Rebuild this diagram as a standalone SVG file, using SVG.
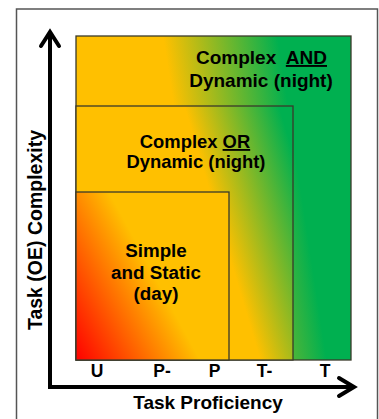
<svg xmlns="http://www.w3.org/2000/svg" width="379" height="419" viewBox="0 0 379 419">
<defs>
<linearGradient id="gAnd" gradientUnits="userSpaceOnUse" x1="163" y1="36" x2="275" y2="19">
<stop offset="0" stop-color="#FFC000"/><stop offset="1" stop-color="#00B050"/>
</linearGradient>
<linearGradient id="gOr" gradientUnits="userSpaceOnUse" x1="187" y1="115" x2="274" y2="89">
<stop offset="0" stop-color="#FFC000"/><stop offset="1" stop-color="#00B050"/>
</linearGradient>
<linearGradient id="gSimple" gradientUnits="userSpaceOnUse" x1="76" y1="360" x2="172" y2="308">
<stop offset="0" stop-color="#FF0000"/><stop offset="1" stop-color="#FFC000"/>
</linearGradient>
</defs>
<style>
.box{stroke:#3a3a2a;stroke-width:1.3}
.t{font-family:"Liberation Sans",Arial,sans-serif;font-weight:bold;fill:#000;text-anchor:middle}
.ax{fill:none;stroke:#000;stroke-width:4;stroke-linecap:square;stroke-linejoin:miter}
.ah{fill:none;stroke:#000;stroke-width:4;stroke-linecap:round;stroke-linejoin:miter}
</style>
<rect x="16.5" y="9" width="361" height="430" fill="#fff" stroke="#555" stroke-width="1.5"/>
<g id="and">
<rect class="box" x="76" y="36" width="275" height="324" fill="url(#gAnd)"/>
<text class="t" font-size="19"><tspan x="261.5" y="64">Complex <tspan dx="5" text-decoration="underline">AND</tspan></tspan><tspan x="261" y="87">Dynamic (night)</tspan></text>
</g>
<g id="or">
<rect class="box" x="76" y="106" width="217" height="254" fill="url(#gOr)"/>
<text class="t" font-size="18.4"><tspan x="195" y="148">Complex <tspan text-decoration="underline">OR</tspan></tspan><tspan x="196" y="167.5">Dynamic (night)</tspan></text>
</g>
<g id="simple">
<rect class="box" x="76" y="192" width="153" height="168" fill="url(#gSimple)"/>
<text class="t" font-size="18.8"><tspan x="156" y="257">Simple</tspan><tspan x="156" y="278.5">and Static</tspan><tspan x="156" y="300">(day)</tspan></text>
</g>
<g id="axes">
<polyline class="ax" points="50,34 50,387 352,387"/>
<polyline class="ah" points="41,46 50,32 59,46"/>
<polyline class="ah" points="339,378 354,387 339,396"/>
</g>
<g id="ticks">
<text class="t" font-size="17.5" x="97" y="377">U</text>
<text class="t" font-size="17.5" x="162" y="377">P-</text>
<text class="t" font-size="17.5" x="214.5" y="377">P</text>
<text class="t" font-size="17.5" x="264.5" y="377">T-</text>
<text class="t" font-size="17.5" x="325" y="377">T</text>
</g>
<text class="t" font-size="19" x="208" y="408.5">Task Proficiency</text>
<text class="t" font-size="19.5" transform="translate(42,230) rotate(-90)" x="0" y="0">Task (OE) Complexity</text>
</svg>
